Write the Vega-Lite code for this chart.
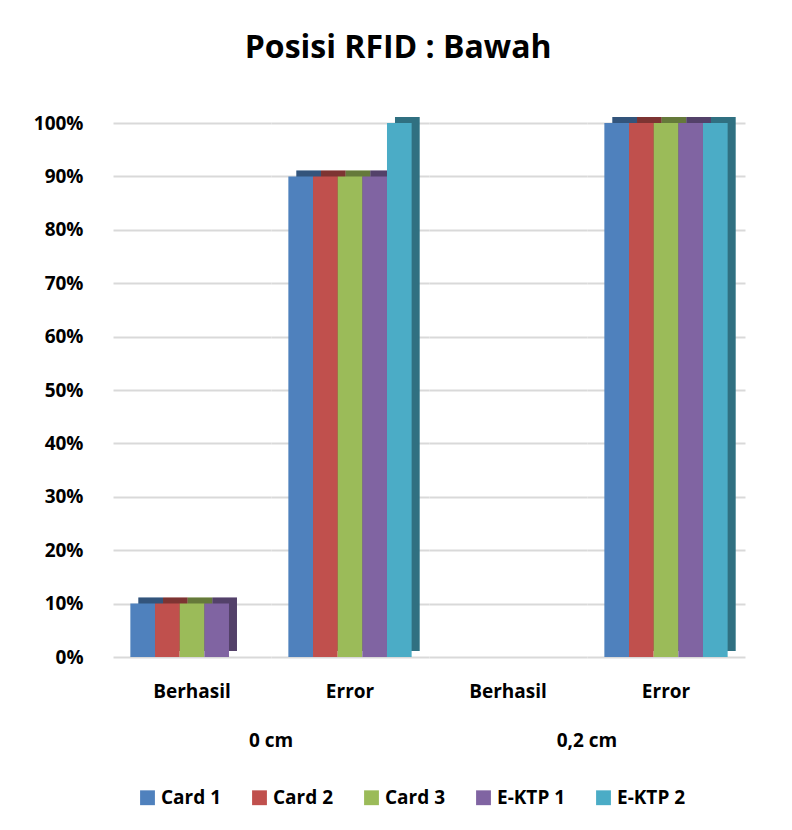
{
  "$schema": "https://vega.github.io/schema/vega-lite/v6.json",
  "background": "white",
  "padding": {"left": 33, "top": 32, "right": 30, "bottom": 10},
  "title": {"text": "Posisi RFID : Bawah", "fontSize": 32, "font": "Open Sans", "fontWeight": "bold", "color": "#000000", "offset": 49, "anchor": "middle", "frame": "bounds", "dx": 9},
  "data": {"values": [
    {"jarak": "0 cm", "hasil": "Berhasil", "seri": "Card 1", "nilai": 0.1},
    {"jarak": "0 cm", "hasil": "Berhasil", "seri": "Card 2", "nilai": 0.1},
    {"jarak": "0 cm", "hasil": "Berhasil", "seri": "Card 3", "nilai": 0.1},
    {"jarak": "0 cm", "hasil": "Berhasil", "seri": "E-KTP 1", "nilai": 0.1},
    {"jarak": "0 cm", "hasil": "Berhasil", "seri": "E-KTP 2", "nilai": 0},
    {"jarak": "0 cm", "hasil": "Error", "seri": "Card 1", "nilai": 0.9},
    {"jarak": "0 cm", "hasil": "Error", "seri": "Card 2", "nilai": 0.9},
    {"jarak": "0 cm", "hasil": "Error", "seri": "Card 3", "nilai": 0.9},
    {"jarak": "0 cm", "hasil": "Error", "seri": "E-KTP 1", "nilai": 0.9},
    {"jarak": "0 cm", "hasil": "Error", "seri": "E-KTP 2", "nilai": 1.0},
    {"jarak": "0,2 cm", "hasil": "Berhasil", "seri": "Card 1", "nilai": 0},
    {"jarak": "0,2 cm", "hasil": "Berhasil", "seri": "Card 2", "nilai": 0},
    {"jarak": "0,2 cm", "hasil": "Berhasil", "seri": "Card 3", "nilai": 0},
    {"jarak": "0,2 cm", "hasil": "Berhasil", "seri": "E-KTP 1", "nilai": 0},
    {"jarak": "0,2 cm", "hasil": "Berhasil", "seri": "E-KTP 2", "nilai": 0},
    {"jarak": "0,2 cm", "hasil": "Error", "seri": "Card 1", "nilai": 1.0},
    {"jarak": "0,2 cm", "hasil": "Error", "seri": "Card 2", "nilai": 1.0},
    {"jarak": "0,2 cm", "hasil": "Error", "seri": "Card 3", "nilai": 1.0},
    {"jarak": "0,2 cm", "hasil": "Error", "seri": "E-KTP 1", "nilai": 1.0},
    {"jarak": "0,2 cm", "hasil": "Error", "seri": "E-KTP 2", "nilai": 1.0}
  ]},
  "spacing": 0,
  "hconcat": [
    {
      "transform": [{"filter": "datum.jarak === '0 cm'"}],
      "facet": {"column": {"field": "hasil", "type": "nominal", "sort": ["Berhasil", "Error"], "title": "0 cm",
        "header": {"labelOrient": "bottom", "titleOrient": "bottom", "labelFont": "Open Sans", "labelFontSize": 19, "labelFontWeight": "bold", "labelColor": "#000000", "labelPadding": 26,
          "titleFont": "Open Sans", "titleFontSize": 19, "titleFontWeight": "bold", "titleColor": "#000000", "titlePadding": 20}}},
      "spacing": 0,
      "spec": {
        "width": 158, "height": 534,
        "encoding": {
          "x": {"field": "seri", "type": "nominal", "sort": ["Card 1", "Card 2", "Card 3", "E-KTP 1", "E-KTP 2"], "title": null,
            "scale": {"paddingInner": 0, "paddingOuter": 0.704}, "axis": null},
          "y": {"field": "nilai", "type": "quantitative", "title": null, "scale": {"domain": [0, 1], "nice": false},
            "axis": {"format": "~%", "values": [0, 0.1, 0.2, 0.3, 0.4, 0.5, 0.6, 0.7, 0.8, 0.9, 1.0], "domain": false, "ticks": false, "labelPadding": 30}},
          "color": {"field": "seri", "type": "nominal", "sort": ["Card 1", "Card 2", "Card 3", "E-KTP 1", "E-KTP 2"],
            "scale": {"range": ["#4F81BD", "#C0504D", "#9BBB59", "#8064A2", "#4BACC6"]},
            "legend": {"title": null, "orient": "none", "legendX": 25, "legendY": 665, "direction": "horizontal", "symbolType": "square", "symbolSize": 220, "symbolStrokeWidth": 0, "labelFont": "Open Sans", "labelFontSize": 19, "labelFontWeight": "bold", "labelColor": "#000000", "columnPadding": 28}}
        },
        "layer": [
          {"mark": {"type": "bar", "xOffset": 8, "yOffset": -6}},
          {"mark": {"type": "bar", "xOffset": 8, "yOffset": -6, "color": "#000000", "opacity": 0.35}, "encoding": {"color": {"value": "#000000"}}},
          {"mark": {"type": "bar"}}
        ]
      }
    },
    {
      "transform": [{"filter": "datum.jarak === '0,2 cm'"}],
      "facet": {"column": {"field": "hasil", "type": "nominal", "sort": ["Berhasil", "Error"], "title": "0,2 cm",
        "header": {"labelOrient": "bottom", "titleOrient": "bottom", "labelFont": "Open Sans", "labelFontSize": 19, "labelFontWeight": "bold", "labelColor": "#000000", "labelPadding": 26,
          "titleFont": "Open Sans", "titleFontSize": 19, "titleFontWeight": "bold", "titleColor": "#000000", "titlePadding": 20}}},
      "spacing": 0,
      "spec": {
        "width": 158, "height": 534,
        "encoding": {
          "x": {"field": "seri", "type": "nominal", "sort": ["Card 1", "Card 2", "Card 3", "E-KTP 1", "E-KTP 2"], "title": null,
            "scale": {"paddingInner": 0, "paddingOuter": 0.704}, "axis": null},
          "y": {"field": "nilai", "type": "quantitative", "title": null, "scale": {"domain": [0, 1], "nice": false},
            "axis": {"labels": false, "values": [0, 0.1, 0.2, 0.3, 0.4, 0.5, 0.6, 0.7, 0.8, 0.9, 1.0], "domain": false, "ticks": false, "labelPadding": 0, "minExtent": 0, "maxExtent": 0}},
          "color": {"field": "seri", "type": "nominal", "sort": ["Card 1", "Card 2", "Card 3", "E-KTP 1", "E-KTP 2"],
            "scale": {"range": ["#4F81BD", "#C0504D", "#9BBB59", "#8064A2", "#4BACC6"]},
            "legend": {"title": null, "orient": "none", "legendX": 25, "legendY": 665, "direction": "horizontal", "symbolType": "square", "symbolSize": 220, "symbolStrokeWidth": 0, "labelFont": "Open Sans", "labelFontSize": 19, "labelFontWeight": "bold", "labelColor": "#000000", "columnPadding": 28}}
        },
        "layer": [
          {"mark": {"type": "bar", "xOffset": 8, "yOffset": -6}},
          {"mark": {"type": "bar", "xOffset": 8, "yOffset": -6, "color": "#000000", "opacity": 0.35}, "encoding": {"color": {"value": "#000000"}}},
          {"mark": {"type": "bar"}}
        ]
      }
    }
  ],
  "config": {
    "view": {"stroke": null},
    "axis": {"labelFont": "Open Sans", "labelFontSize": 19, "labelFontWeight": "bold", "labelColor": "#000000", "gridColor": "#D9D9D9", "gridWidth": 2}
  }
}
